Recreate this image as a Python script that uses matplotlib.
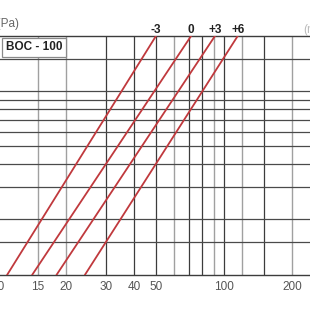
import numpy as np
import matplotlib
matplotlib.use('Agg')
import matplotlib.pyplot as plt
from matplotlib.transforms import blended_transform_factory

plt.rcParams['font.family'] = ['Liberation Sans', 'DejaVu Sans']

# 数据：风量 (m³/h) 与 压降 (Pa)，对数坐标
x_ticks = [10, 15, 20, 30, 40, 50, 100, 200]
x_grid_dark = [30, 40, 50, 70, 80, 100, 150]
x_grid_gray = [15, 20, 60, 90, 120, 200]
y_grid = [15, 20, 30, 40, 50, 60, 70, 80, 90, 100, 150]

curve_labels = ['-3', '0', '+3', '+6']
q_at_10pa = [11.0, 14.2, 18.2, 24.3]      # 风量 @ 10 Pa
q_at_200pa = [50.0, 71.5, 91.2, 115.0]    # 风量 @ 200 Pa
dp_ends = [10, 200]

W = H = 310
fig = plt.figure(figsize=(3.1, 3.1), dpi=100)

# 坐标轴左右超出画面（截图效果）
L, R = -30, 330
top, bot = 36, 274.5
ax = fig.add_axes([L / W, (H - bot) / H, (R - L) / W, (bot - top) / H])
ax.set_xscale('log')
ax.set_yscale('log')


def px2q(p):
    return 10 ** (1 + (p + 2) / 226)


ax.set_xlim(px2q(L), px2q(R))
ax.set_ylim(10, 200)

for v in x_grid_gray:
    ax.axvline(v, color='#a0a0a0', lw=1.0, zorder=1)
for v in x_grid_dark:
    ax.axvline(v, color='#3c3c3c', lw=0.9, zorder=1)
for v in y_grid:
    ax.axhline(v, color='#4a4a4a', lw=0.9, zorder=1)

for s in ax.spines.values():
    s.set_color('#3c3c3c')
    s.set_linewidth(1.0)

ax.set_xticks(x_ticks)
ax.set_xticklabels([str(t) for t in x_ticks])
ax.xaxis.set_minor_locator(matplotlib.ticker.NullLocator())
ax.yaxis.set_minor_locator(matplotlib.ticker.NullLocator())
ax.set_yticks([])
ax.tick_params(axis='x', length=0, pad=5, labelsize=8.5, labelcolor='#555555')

# 红色特性曲线
for lab, q1, q2 in zip(curve_labels, q_at_10pa, q_at_200pa):
    ax.plot([q1, q2], dp_ends, color='#c0393d', lw=1.3, zorder=3)

trans = blended_transform_factory(ax.transData, fig.transFigure)
for lab, q2 in zip(curve_labels, q_at_200pa):
    ax.text(q2, (H - 33) / H, lab, transform=trans, ha='center', va='baseline',
            fontsize=8.5, fontweight='bold', color='#222222', clip_on=False)

fig.text(34 / W, (H - 47.5) / H, 'BOC - 100', ha='center', va='center',
         fontsize=8.5, fontweight='bold', color='#222222',
         bbox=dict(boxstyle='square,pad=0.3', fc='white', ec='#8a8a8a', lw=0.9))

fig.text(19 / W, (H - 27) / H, 'Δp (Pa)', ha='right', va='baseline',
         fontsize=8.5, color='#666666')
fig.text(303.5 / W, (H - 33) / H, '(m³/h)', ha='left', va='baseline',
         fontsize=8.5, color='#bbbbbb')

fig.savefig('out.png', dpi=100)
